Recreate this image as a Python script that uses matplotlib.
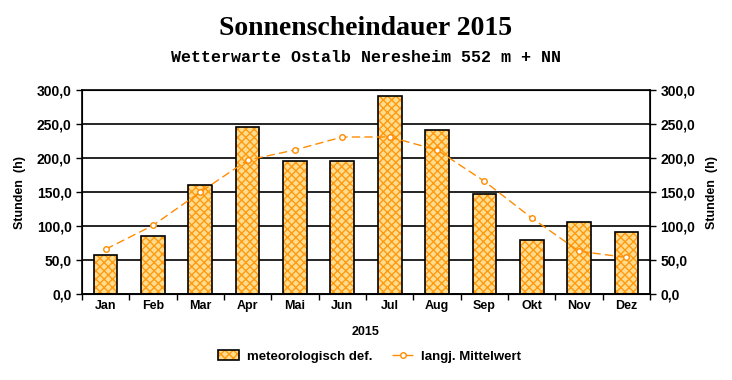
import matplotlib
matplotlib.use('Agg')
import matplotlib.pyplot as plt
from matplotlib.ticker import FuncFormatter, FixedLocator
import numpy as np

months = ['Jan', 'Feb', 'Mar', 'Apr', 'Mai', 'Jun', 'Jul', 'Aug', 'Sep', 'Okt', 'Nov', 'Dez']
sonne_2015 = [57, 86, 160, 245, 195, 195, 292, 242, 147, 79, 106, 92]
mittelwert = [66, 101, 150, 197, 212, 231, 231, 212, 166, 112, 63, 54]

plt.rcParams['hatch.linewidth'] = 1.0

fig = plt.figure(figsize=(7.32, 3.80), dpi=100)
ax = fig.add_axes([0.112, 0.226, 0.776, 0.537])

x = np.arange(len(months))
ax.set_axisbelow(True)
ax.yaxis.grid(True, color='black', linewidth=1.2)
# checkered fill: light face with orange hatch, black outline drawn on top
fill = ax.bar(x, sonne_2015, width=0.5, color='#FFDD90', edgecolor='#FF9A10',
              linewidth=0, hatch='xxxx', zorder=2)
outline = ax.bar(x, sonne_2015, width=0.5, fill=False, edgecolor='black',
                 linewidth=1.2, zorder=2.5)
line, = ax.plot(x, mittelwert, color='#FF8C00', linestyle=(0, (6, 3)), linewidth=1,
                marker='o', markersize=4, markerfacecolor='white', markeredgecolor='#FF8C00',
                zorder=3)

ax.set_xlim(-0.5, len(months) - 0.5)
ax.set_ylim(0, 300)
ax.set_yticks(np.arange(0, 301, 50))
fmt = FuncFormatter(lambda v, p: ('%.1f' % v).replace('.', ','))
ax.yaxis.set_major_formatter(fmt)
ax.set_xticks(x)
ax.set_xticklabels(months, fontsize=9, fontweight='bold', family='Liberation Sans')
ax.xaxis.set_minor_locator(FixedLocator(np.arange(-0.5, len(months), 1)))
ax.tick_params(axis='x', which='major', length=0, pad=4)
ax.tick_params(axis='x', which='minor', length=4, width=1, direction='out')
ax.tick_params(axis='y', length=4, width=1, direction='out')
for lab in ax.get_yticklabels():
    lab.set_fontsize(10)
    lab.set_fontweight('bold')
    lab.set_family('Liberation Sans')
for s in ax.spines.values():
    s.set_linewidth(1.2)

ax2 = ax.twinx()
ax2.set_ylim(0, 300)
ax2.set_yticks(np.arange(0, 301, 50))
ax2.yaxis.set_major_formatter(fmt)
ax2.tick_params(axis='y', length=4, width=1, direction='out')
for lab in ax2.get_yticklabels():
    lab.set_fontsize(10)
    lab.set_fontweight('bold')
    lab.set_family('Liberation Sans')

lab_font = dict(fontsize=9, fontweight='bold', family='Liberation Sans')
ax.set_ylabel('Stunden  (h)', labelpad=8, **lab_font)
ax2.set_ylabel('Stunden  (h)', labelpad=8, **lab_font)
ax.set_xlabel('2015', labelpad=10, **lab_font)

fig.text(0.5, 0.926, 'Sonnenscheindauer 2015', ha='center', va='center',
         fontsize=20, fontweight='bold', family='Liberation Serif')
fig.text(0.5, 0.85, 'Wetterwarte Ostalb Neresheim 552 m + NN', ha='center', va='center',
         fontsize=12, fontweight='bold', family='Liberation Mono')

fig.legend(handles=[(fill, outline), line], labels=['meteorologisch def.', 'langj. Mittelwert'],
           loc='center', bbox_to_anchor=(0.505, 0.062), ncol=2,
           frameon=False, prop={'size': 9.5, 'weight': 'bold', 'family': 'Liberation Sans'},
           handlelength=1.6, columnspacing=1.5, handletextpad=0.6)

fig.savefig('out.png', dpi=100)
